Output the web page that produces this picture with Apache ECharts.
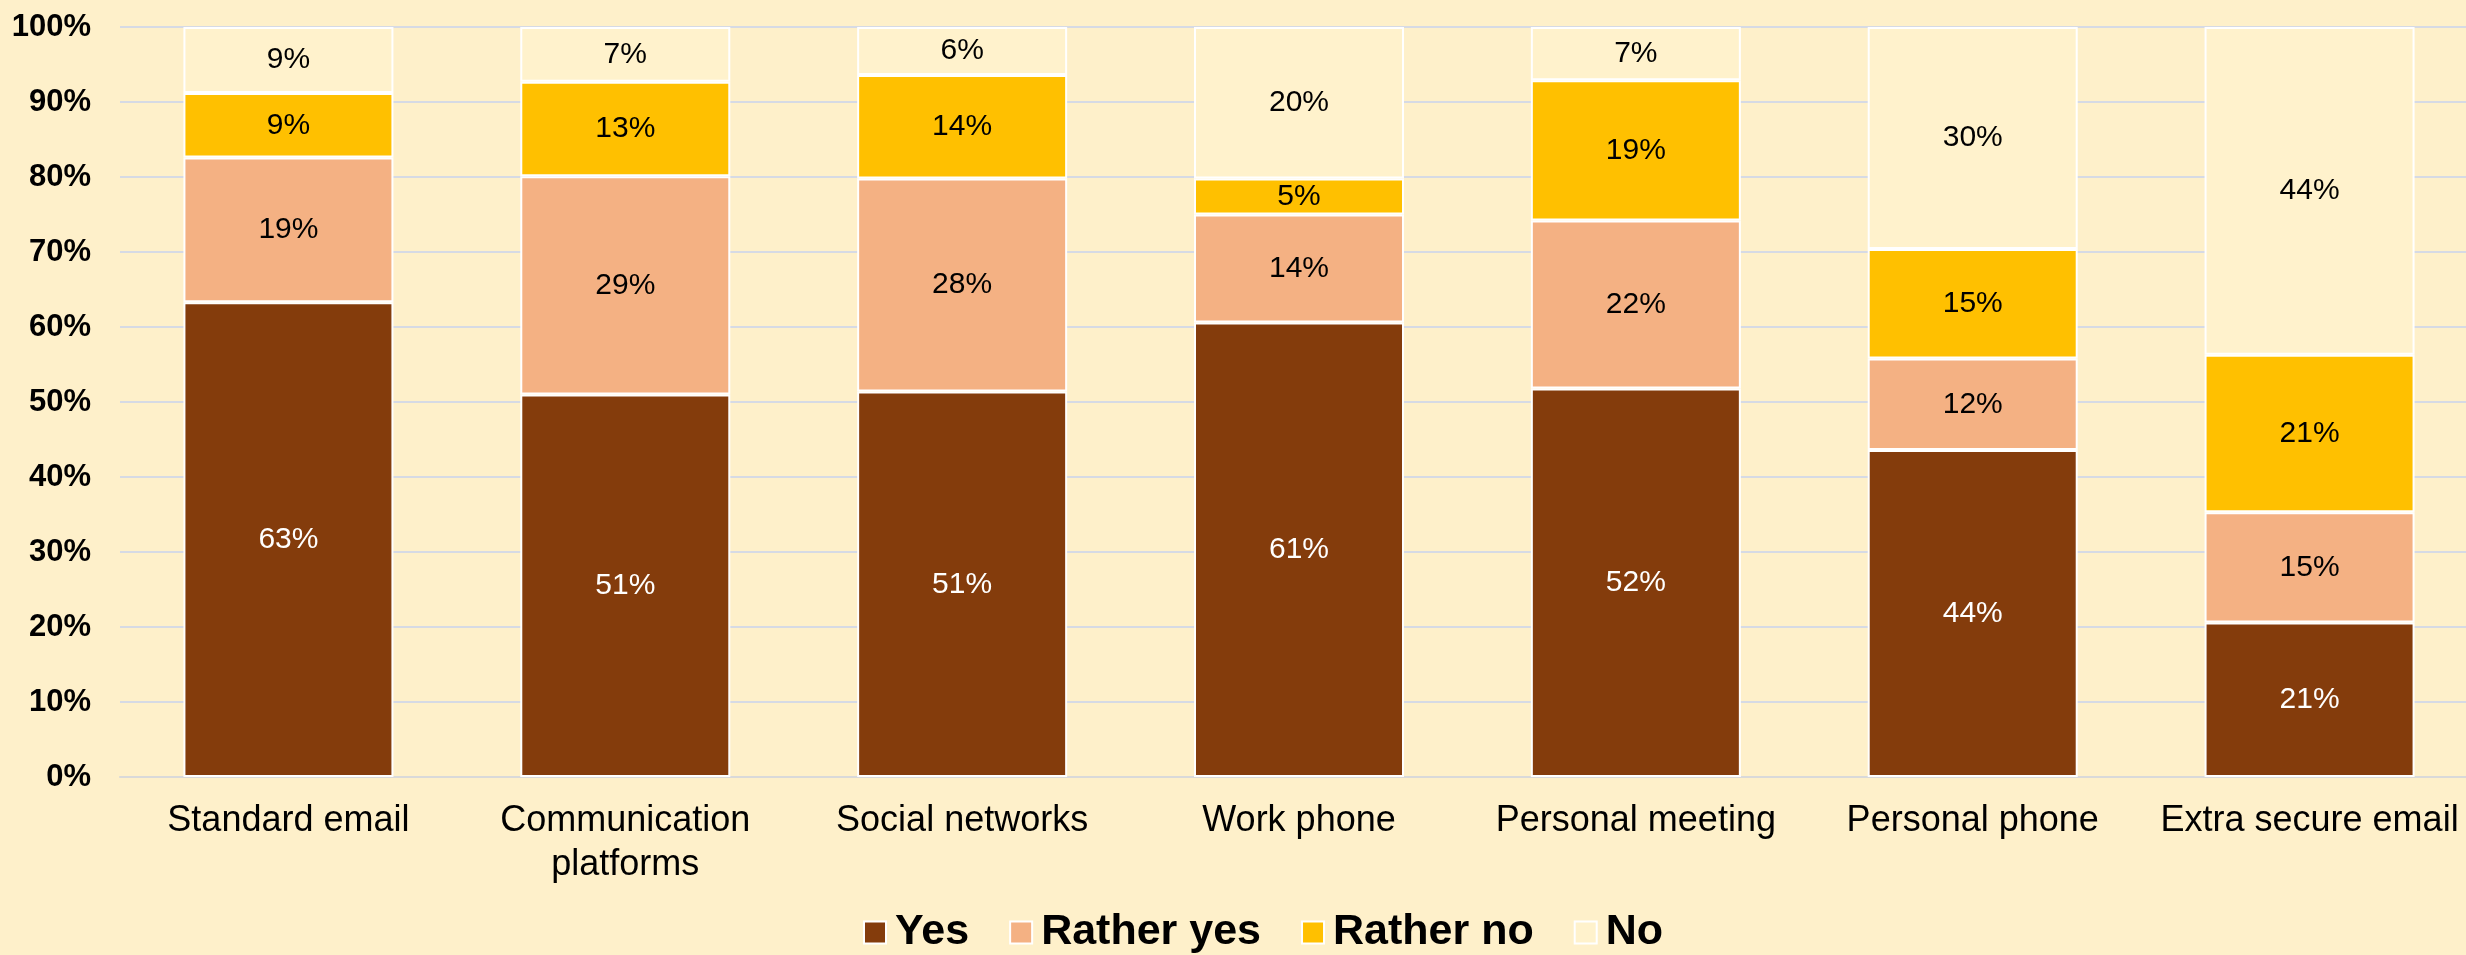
<!DOCTYPE html>
<html lang="en">
<head>
    <meta charset="utf-8"/>
    <title>Channels</title>
    <style>
        html, body { margin: 0; padding: 0; background: #FEF0CA; }
        #chart { width: 2466px; height: 955px; }
    </style>
</head>
<body>
<div id="chart"></div>
<script src="https://cdn.jsdelivr.net/npm/echarts@6/dist/echarts.min.js"></script>
<script>
    // data
    var categories = ['Standard email', 'Communication\nplatforms', 'Social networks', 'Work phone',
        'Personal meeting', 'Personal phone', 'Extra secure email'];
    var seriesNames = ['Yes', 'Rather yes', 'Rather no', 'No'];
    var yes = [63.3, 51.0, 51.4, 60.6, 51.8, 43.6, 20.6];
    var ratherYes = [19.3, 29.1, 28.4, 14.4, 22.4, 12.2, 14.7];
    var ratherNo = [8.6, 12.6, 13.8, 4.8, 18.7, 14.6, 21.0];
    var no = [8.8, 7.3, 6.4, 20.2, 7.1, 29.6, 43.7];
    var yTicks = [0, 10, 20, 30, 40, 50, 60, 70, 80, 90, 100];

    var colors = ['#843C0C', '#F4B183', '#FFC000', '#FFF2CC'];
    var labelColors = ['#FFFFFF', '#000000', '#000000', '#000000'];
    var values = [yes, ratherYes, ratherNo, no];

    var font = '"Liberation Sans", Arial, sans-serif';

    var chart = echarts.init(document.getElementById('chart'));

    var series = [];
    for (var i = 0; i < seriesNames.length; i++) {
        series.push({
            name: seriesNames[i],
            type: 'bar',
            stack: 'total',
            barWidth: 210,
            data: values[i],
            itemStyle: {
                color: colors[i],
                borderColor: '#FFFFFF',
                borderWidth: 2
            },
            label: {
                show: true,
                position: 'inside',
                color: labelColors[i],
                fontFamily: font,
                fontSize: 30,
                formatter: function (p) {
                    return Math.round(p.value) + '%';
                }
            },
            emphasis: { disabled: true }
        });
    }

    var option = {
        animation: false,
        backgroundColor: '#FEF0CA',
        grid: {
            left: 120,
            right: -12,
            top: 27,
            bottom: 178,
            containLabel: false,
            outerBoundsMode: 'none'
        },
        legend: {
            data: seriesNames,
            left: 858,
            top: 906,
            itemWidth: 22,
            itemHeight: 22,
            itemGap: 40,
            icon: 'rect',
            itemStyle: { borderColor: '#FFFFFF', borderWidth: 2 },
            textStyle: {
                fontFamily: font,
                fontSize: 43,
                fontWeight: 'bold',
                color: '#000000',
                padding: [0, 0, 0, 4]
            }
        },
        xAxis: {
            type: 'category',
            data: categories,
            axisLine: { show: true, lineStyle: { color: '#D9D9D9', width: 2 } },
            axisTick: { show: false },
            axisLabel: {
                fontFamily: font,
                fontSize: 36,
                color: '#000000',
                lineHeight: 44,
                margin: 22,
                interval: 0
            }
        },
        yAxis: {
            type: 'value',
            min: yTicks[0],
            max: yTicks[yTicks.length - 1],
            interval: 10,
            axisLine: { show: false },
            axisTick: { show: false },
            splitLine: { lineStyle: { color: '#D6DAE4', width: 2 } },
            axisLabel: {
                fontFamily: font,
                fontSize: 31,
                fontWeight: 'bold',
                color: '#000000',
                margin: 29,
                formatter: '{value}%'
            }
        },
        series: series
    };
    chart.setOption(option);
</script>
</body>
</html>
